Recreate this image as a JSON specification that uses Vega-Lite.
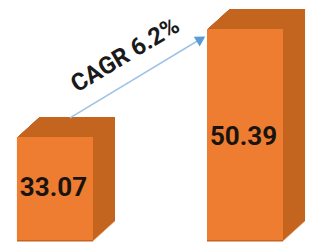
{
  "$schema": "https://vega.github.io/schema/vega-lite/v6.json",
  "width": 309,
  "height": 240,
  "padding": {"left": 0, "top": 0, "right": 0, "bottom": 5},
  "background": "white",
  "config": {"view": {"stroke": null}},
  "data": {"values": [{"year": "2019", "value": 33.07}, {"year": "2025", "value": 50.39}]},
  "layer": [
    {
      "encoding": {
        "x": {"field": "year", "type": "nominal", "axis": null, "scale": {"type": "band", "domain": ["2019", "2025"], "paddingInner": 0.6, "paddingOuter": 0.113, "align": 0.395}},
        "y": {"field": "value", "type": "quantitative", "axis": null, "scale": {"domain": [16.55, 55.04], "zero": false, "nice": false}},
        "y2": {"datum": 16.55}
      },
      "layer": [
        {"mark": {"type": "bar", "color": "#B05C20", "xOffset": 1.1, "yOffset": -1, "y2Offset": -1}},
        {"mark": {"type": "bar", "color": "#AF5B20", "xOffset": 2.2, "yOffset": -2, "y2Offset": -2}},
        {"mark": {"type": "bar", "color": "#AE5B20", "xOffset": 3.3, "yOffset": -3, "y2Offset": -3}},
        {"mark": {"type": "bar", "color": "#AD5A1F", "xOffset": 4.4, "yOffset": -4, "y2Offset": -4}},
        {"mark": {"type": "bar", "color": "#AC5A1F", "xOffset": 5.5, "yOffset": -5, "y2Offset": -5}},
        {"mark": {"type": "bar", "color": "#AB591F", "xOffset": 6.6, "yOffset": -6, "y2Offset": -6}},
        {"mark": {"type": "bar", "color": "#AA591F", "xOffset": 7.7, "yOffset": -7, "y2Offset": -7}},
        {"mark": {"type": "bar", "color": "#A9581F", "xOffset": 8.8, "yOffset": -8, "y2Offset": -8}},
        {"mark": {"type": "bar", "color": "#A8581E", "xOffset": 9.9, "yOffset": -9, "y2Offset": -9}},
        {"mark": {"type": "bar", "color": "#A7571E", "xOffset": 11, "yOffset": -10, "y2Offset": -10}},
        {"mark": {"type": "bar", "color": "#A6571E", "xOffset": 12.1, "yOffset": -11, "y2Offset": -11}},
        {"mark": {"type": "bar", "color": "#A5561E", "xOffset": 13.2, "yOffset": -12, "y2Offset": -12}},
        {"mark": {"type": "bar", "color": "#A4561E", "xOffset": 14.3, "yOffset": -13, "y2Offset": -13}},
        {"mark": {"type": "bar", "color": "#A3551D", "xOffset": 15.4, "yOffset": -14, "y2Offset": -14}},
        {"mark": {"type": "bar", "color": "#A2551D", "xOffset": 16.5, "yOffset": -15, "y2Offset": -15}},
        {"mark": {"type": "bar", "color": "#A1541D", "xOffset": 17.6, "yOffset": -16, "y2Offset": -16}},
        {"mark": {"type": "bar", "color": "#A0541D", "xOffset": 18.7, "yOffset": -17, "y2Offset": -17}},
        {"mark": {"type": "bar", "color": "#9F531C", "xOffset": 19.8, "yOffset": -18, "y2Offset": -18}},
        {"mark": {"type": "bar", "color": "#9E531C", "xOffset": 20.9, "yOffset": -19, "y2Offset": -19}},
        {"mark": {"type": "bar", "color": "#9D521C", "xOffset": 22, "yOffset": -20, "y2Offset": -20}},
        {"mark": {"type": "bar", "color": "#C4651F", "xOffset": 0, "yOffset": 0, "y2Offset": 1.5}, "encoding": {"y2": {"field": "value"}}},
        {"mark": {"type": "bar", "color": "#C4651F", "xOffset": 1.1, "yOffset": -1, "y2Offset": 0.5}, "encoding": {"y2": {"field": "value"}}},
        {"mark": {"type": "bar", "color": "#C4651F", "xOffset": 2.2, "yOffset": -2, "y2Offset": -0.5}, "encoding": {"y2": {"field": "value"}}},
        {"mark": {"type": "bar", "color": "#C4651F", "xOffset": 3.3, "yOffset": -3, "y2Offset": -1.5}, "encoding": {"y2": {"field": "value"}}},
        {"mark": {"type": "bar", "color": "#C4651F", "xOffset": 4.4, "yOffset": -4, "y2Offset": -2.5}, "encoding": {"y2": {"field": "value"}}},
        {"mark": {"type": "bar", "color": "#C4651F", "xOffset": 5.5, "yOffset": -5, "y2Offset": -3.5}, "encoding": {"y2": {"field": "value"}}},
        {"mark": {"type": "bar", "color": "#C4651F", "xOffset": 6.6, "yOffset": -6, "y2Offset": -4.5}, "encoding": {"y2": {"field": "value"}}},
        {"mark": {"type": "bar", "color": "#C4651F", "xOffset": 7.7, "yOffset": -7, "y2Offset": -5.5}, "encoding": {"y2": {"field": "value"}}},
        {"mark": {"type": "bar", "color": "#C4651F", "xOffset": 8.8, "yOffset": -8, "y2Offset": -6.5}, "encoding": {"y2": {"field": "value"}}},
        {"mark": {"type": "bar", "color": "#C4651F", "xOffset": 9.9, "yOffset": -9, "y2Offset": -7.5}, "encoding": {"y2": {"field": "value"}}},
        {"mark": {"type": "bar", "color": "#C4651F", "xOffset": 11, "yOffset": -10, "y2Offset": -8.5}, "encoding": {"y2": {"field": "value"}}},
        {"mark": {"type": "bar", "color": "#C4651F", "xOffset": 12.1, "yOffset": -11, "y2Offset": -9.5}, "encoding": {"y2": {"field": "value"}}},
        {"mark": {"type": "bar", "color": "#C4651F", "xOffset": 13.2, "yOffset": -12, "y2Offset": -10.5}, "encoding": {"y2": {"field": "value"}}},
        {"mark": {"type": "bar", "color": "#C4651F", "xOffset": 14.3, "yOffset": -13, "y2Offset": -11.5}, "encoding": {"y2": {"field": "value"}}},
        {"mark": {"type": "bar", "color": "#C4651F", "xOffset": 15.4, "yOffset": -14, "y2Offset": -12.5}, "encoding": {"y2": {"field": "value"}}},
        {"mark": {"type": "bar", "color": "#C4651F", "xOffset": 16.5, "yOffset": -15, "y2Offset": -13.5}, "encoding": {"y2": {"field": "value"}}},
        {"mark": {"type": "bar", "color": "#C4651F", "xOffset": 17.6, "yOffset": -16, "y2Offset": -14.5}, "encoding": {"y2": {"field": "value"}}},
        {"mark": {"type": "bar", "color": "#C4651F", "xOffset": 18.7, "yOffset": -17, "y2Offset": -15.5}, "encoding": {"y2": {"field": "value"}}},
        {"mark": {"type": "bar", "color": "#C4651F", "xOffset": 19.8, "yOffset": -18, "y2Offset": -16.5}, "encoding": {"y2": {"field": "value"}}},
        {"mark": {"type": "bar", "color": "#C4651F", "xOffset": 20.9, "yOffset": -19, "y2Offset": -17.5}, "encoding": {"y2": {"field": "value"}}},
        {"mark": {"type": "bar", "color": "#C4651F", "xOffset": 22, "yOffset": -20, "y2Offset": -18.5}, "encoding": {"y2": {"field": "value"}}},
        {"mark": {"type": "bar", "color": "#EF7D31"}}
      ]
    },
    {
      "mark": {"type": "text", "font": "Roboto", "fontWeight": "bold", "fontSize": 26, "color": "#1a1410", "baseline": "middle", "align": "center", "dx": -1.5},
      "encoding": {
        "x": {"field": "year", "type": "nominal", "axis": null, "scale": {"type": "band", "domain": ["2019", "2025"], "paddingInner": 0.6, "paddingOuter": 0.113, "align": 0.395}},
        "y": {"field": "value", "type": "quantitative", "axis": null, "scale": {"domain": [15.23, 97.53], "zero": false, "nice": false}},
        "text": {"field": "value", "type": "quantitative", "format": ".2f"}
      }
    },
    {
      "encoding": {
        "x": {"field": "year", "type": "nominal", "axis": null, "scale": {"type": "point", "domain": ["2019", "2025"], "padding": 0.698, "align": 0.389}},
        "y": {"field": "value", "type": "quantitative", "axis": null, "scale": {"domain": [5.97, 59.27], "zero": false, "nice": false}}
      },
      "layer": [
        {"mark": {"type": "line", "color": "#9DC3E6", "strokeWidth": 1.5}, "encoding": {}},
        {"transform": [{"filter": "datum.year == '2025'"}], "mark": {"type": "point", "shape": "triangle-right", "filled": true, "color": "#5B9BD5", "opacity": 1, "angle": -31, "size": 130, "xOffset": 2, "yOffset": -1}},
        {"transform": [{"filter": "datum.year == '2019'"}], "mark": {"type": "text", "text": "CAGR 6.2%", "angle": -31, "align": "left", "baseline": "alphabetic", "dx": 19, "dy": -18, "font": "Roboto", "fontWeight": "bold", "fontSize": 24, "color": "#1a1a1a"}}
      ]
    }
  ],
  "resolve": {"scale": {"x": "independent", "y": "independent"}}
}
